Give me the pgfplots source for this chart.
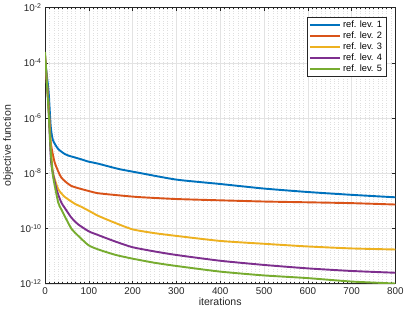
\documentclass[border=0pt]{standalone}
\usepackage{pgfplots}
\pgfplotsset{compat=1.18}
\usepackage{fontspec}
\setmainfont{Liberation Sans}
\definecolor{c1}{rgb}{0,0.447,0.741}
\definecolor{c2}{rgb}{0.850,0.325,0.098}
\definecolor{c3}{rgb}{0.929,0.694,0.125}
\definecolor{c4}{rgb}{0.494,0.184,0.556}
\definecolor{c5}{rgb}{0.466,0.674,0.188}
\definecolor{axc}{rgb}{0.15,0.15,0.15}
\begin{document}
\begin{tikzpicture}
\begin{axis}[
  name=ax,
  scale only axis, width=349pt, height=275pt,
  ymode=log, xmin=0, xmax=800, ymin=1e-12, ymax=1e-2,
  xtick={0,100,...,800}, minor x tick num=9,
  ytick={1e-12,1e-10,1e-8,1e-6,1e-4,1e-2},
  yticklabels={10\textsuperscript{-12},10\textsuperscript{-10},10\textsuperscript{-8},10\textsuperscript{-6},10\textsuperscript{-4},10\textsuperscript{-2}},
  /pgf/number format/assume math mode=true,
  tick label style={font=\fontsize{9.8}{11}\selectfont, color=axc},
  label style={font=\fontsize{10.5}{12}\selectfont, color=axc},
  xlabel={iterations}, ylabel={objective function},
  xlabel style={yshift=3pt}, ylabel style={yshift=0pt},
  axis line style={axc, line width=0.5pt},
  tick style={axc, line width=0.5pt},
  major tick length=3pt, minor tick length=1.5pt,
  tick align=inside,
  grid=both,
  major grid style={gray!22, line width=0.4pt},
  minor grid style={gray!25, dotted, line width=0.4pt},
  legend style={at={(0.974,0.967)}, anchor=north east, font=\fontsize{9.2}{10}\selectfont, draw=axc, line width=0.4pt, inner xsep=2pt, inner ysep=1.5pt, row sep=-1.2pt, cells={anchor=west}},
  legend cell align=left,
  legend image code/.code={\draw[#1, line width=2pt] (0pt,0pt) -- (30pt,0pt);},
  every axis plot/.append style={line width=1.9pt, smooth, tension=0.35},
  clip=true,
]
\addplot[c1] coordinates {(0,1.26e-4)(8,1e-5)(13,5e-7)(18,1.6e-7)(30,7.6e-8)(45,5e-8)(53,4.4e-8)(83,3.2e-8)(99,2.65e-8)(121,2.24e-8)(167,1.45e-8)(213,1.05e-8)(300,5.9e-9)(400,4.1e-9)(500,2.8e-9)(600,2.1e-9)(700,1.66e-9)(800,1.35e-9)};
\addlegendentry{ref. lev. 1}
\addplot[c2] coordinates {(0,1.6e-4)(8,3e-6)(13,1.35e-7)(22,2.5e-8)(37,7.1e-9)(60,3.5e-9)(99,2.3e-9)(121,1.9e-9)(167,1.6e-9)(213,1.38e-9)(300,1.17e-9)(400,1.05e-9)(500,9.5e-10)(600,8.9e-10)(700,8.3e-10)(800,7.4e-10)};
\addlegendentry{ref. lev. 2}
\addplot[c3] coordinates {(0,1.8e-4)(8,3e-6)(13,1e-7)(18,1.1e-8)(30,2.7e-9)(45,1.4e-9)(68,7.9e-10)(83,6.1e-10)(100,4.4e-10)(121,2.9e-10)(160,1.6e-10)(200,9.3e-11)(250,6.8e-11)(300,5.4e-11)(400,3.55e-11)(500,2.8e-11)(600,2.24e-11)(700,1.9e-11)(800,1.74e-11)};
\addlegendentry{ref. lev. 3}
\addplot[c4] coordinates {(0,2.0e-4)(8,2.5e-6)(14,2.5e-8)(26,2.7e-9)(37,8.9e-10)(45,5.6e-10)(60,2.5e-10)(76,1.4e-10)(100,7.9e-11)(120,5.9e-11)(160,3.4e-11)(200,2.1e-11)(250,1.48e-11)(300,1.1e-11)(400,6.8e-12)(500,4.8e-12)(600,3.6e-12)(700,2.9e-12)(800,2.5e-12)};
\addlegendentry{ref. lev. 4}
\addplot[c5] coordinates {(0,2.5e-4)(8,2e-6)(13,6.3e-8)(18,8.3e-9)(30,8.9e-10)(37,5e-10)(45,2.8e-10)(60,1e-10)(75,5.6e-11)(99,2.5e-11)(120,1.78e-11)(160,1.12e-11)(200,8.1e-12)(250,5.75e-12)(300,4.4e-12)(400,2.75e-12)(500,2e-12)(600,1.6e-12)(700,1.2e-12)(800,1.02e-12)};
\addlegendentry{ref. lev. 5}
\end{axis}
\path (ax.south east) ++(11pt,0pt);
\path (ax.north east) ++(0pt,6pt);
\end{tikzpicture}
\end{document}
